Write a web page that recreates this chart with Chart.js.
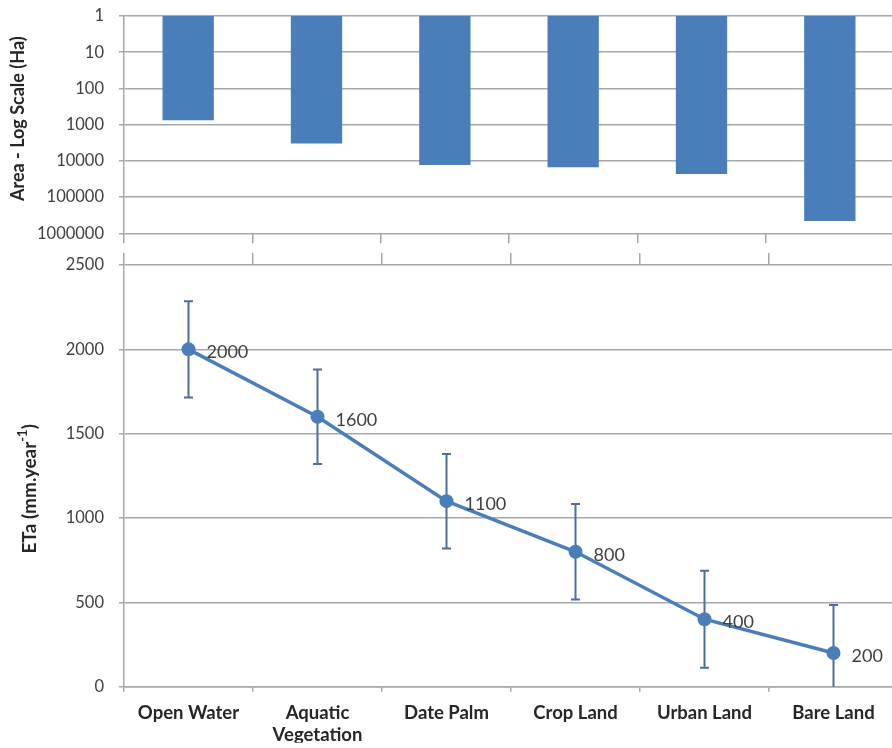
<!DOCTYPE html>
<html><head><meta charset="utf-8">
<script src="https://cdn.jsdelivr.net/npm/chart.js@4/dist/chart.umd.min.js"></script>
<style>
html,body{margin:0;padding:0;overflow:hidden;background:#fff;width:892px;height:748px;}
canvas{position:absolute;left:0;display:block;}
#topChart{top:0;}
#botChart{top:248px;}
</style></head><body>
<canvas id="topChart" width="894" height="248"></canvas>
<canvas id="botChart" width="898" height="500"></canvas>
<script>
// ---- data ----
const categories = ['Open Water', ['Aquatic', 'Vegetation'], 'Date Palm', 'Crop Land', 'Urban Land', 'Bare Land'];
const areaHa = [750, 3300, 13000, 15000, 23000, 460000];
const areaTicks = [1, 10, 100, 1000, 10000, 100000, 1000000];
const etaValues = [2000, 1600, 1100, 800, 400, 200];
const etaError = [285, 280, 280, 283, 288, 285];
const etaTicks = [0, 500, 1000, 1500, 2000, 2500];

const BLUE = '#4a7ebb';
const ERR = '#4a6f9e';
const GRID = '#a8a8a8';
const TXT = '#404040';
const FONT = 'Lato';

function noPad(s) { s.paddingTop = 0; s.paddingBottom = 0; s.paddingLeft = 0; s.paddingRight = 0; }

function draw() {
  const titlePlugin = (text, sup, tail, dy, cx, size, supSize, weight) => ({
    id: 'sideTitle',
    afterDraw(chart) {
      const ctx = chart.ctx, a = chart.chartArea;
      const cy = (a.top + a.bottom) / 2 + dy;
      ctx.save();
      ctx.translate(cx, cy);
      ctx.rotate(-Math.PI / 2);
      ctx.fillStyle = '#262626';
      ctx.textBaseline = 'middle';
      ctx.textAlign = 'left';
      const main = weight + ' ' + size + 'px ' + FONT, small = weight + ' ' + supSize + 'px ' + FONT;
      ctx.font = main; const w1 = ctx.measureText(text).width;
      ctx.font = small; const w2 = sup ? ctx.measureText(sup).width : 0;
      ctx.font = main; const w3 = tail ? ctx.measureText(tail).width : 0;
      let x = -(w1 + w2 + w3) / 2;
      ctx.font = main; ctx.fillText(text, x, 0); x += w1;
      if (sup) { ctx.font = small; ctx.fillText(sup, x, -size * 0.38); x += w2; }
      if (tail) { ctx.font = main; ctx.fillText(tail, x, 0); }
      ctx.restore();
    }
  });

  new Chart(document.getElementById('topChart'), {
    type: 'bar',
    data: {
      labels: categories,
      datasets: [{
        data: areaHa.map(v => [1, v]),
        backgroundColor: BLUE,
        borderWidth: 0,
        barPercentage: 0.4,
        categoryPercentage: 1
      }]
    },
    options: {
      responsive: false, animation: false,
      layout: { autoPadding: false, padding: { top: 16, bottom: 4.7, left: 0, right: 0 } },
      plugins: { legend: { display: false }, tooltip: { enabled: false } },
      scales: {
        x: {
          grid: { offset: true, drawOnChartArea: false, drawTicks: true, tickLength: 10, color: GRID, lineWidth: 1.5 },
          border: { display: false },
          ticks: { display: false },
          afterFit: s => { s.height = 10; noPad(s); }
        },
        y: {
          type: 'logarithmic', reverse: true, min: 1, max: 1000000,
          afterBuildTicks: s => { s.ticks = areaTicks.map(v => ({ value: v })); },
          ticks: { callback: v => String(v), font: { family: FONT, size: 16.5 }, color: TXT, padding: 15 },
          grid: { color: GRID, lineWidth: 1.5, tickLength: 5 },
          border: { color: GRID, width: 1.5 },
          afterFit: s => { s.width = 124; noPad(s); }
        }
      }
    },
    plugins: [titlePlugin('Area - Log Scale (Ha)', '', '', -6, 18.5, 18, 12, 'bold')]
  });

  const errorBars = {
    id: 'errorBars',
    beforeDatasetsDraw(chart) {
      const ctx = chart.ctx, a = chart.chartArea;
      const meta = chart.getDatasetMeta(0), ys = chart.scales.y;
      ctx.save();
      ctx.beginPath(); ctx.rect(a.left, a.top, a.right - a.left, a.bottom - a.top); ctx.clip();
      ctx.strokeStyle = ERR; ctx.lineWidth = 2;
      meta.data.forEach((pt, i) => {
        const yt = ys.getPixelForValue(etaValues[i] + etaError[i]);
        const yb = ys.getPixelForValue(etaValues[i] - etaError[i]);
        ctx.beginPath();
        ctx.moveTo(pt.x, yt); ctx.lineTo(pt.x, yb);
        ctx.moveTo(pt.x - 4.5, yt); ctx.lineTo(pt.x + 4.5, yt);
        ctx.moveTo(pt.x - 4.5, yb); ctx.lineTo(pt.x + 4.5, yb);
        ctx.stroke();
      });
      ctx.restore();
    }
  };
  const dataLabels = {
    id: 'dataLabels',
    afterDatasetsDraw(chart) {
      const ctx = chart.ctx, meta = chart.getDatasetMeta(0);
      ctx.save();
      ctx.font = '18px ' + FONT; ctx.fillStyle = TXT;
      ctx.textAlign = 'left'; ctx.textBaseline = 'middle';
      meta.data.forEach((pt, i) => ctx.fillText(String(etaValues[i]), pt.x + 18, pt.y + 3));
      ctx.restore();
    }
  };

  new Chart(document.getElementById('botChart'), {
    type: 'line',
    data: {
      labels: categories,
      datasets: [{
        data: etaValues,
        borderColor: BLUE, borderWidth: 3.5,
        pointRadius: 7, pointBackgroundColor: BLUE, pointBorderWidth: 0,
        tension: 0, fill: false, clip: false
      }]
    },
    options: {
      responsive: false, animation: false,
      layout: { autoPadding: false, padding: { top: 5, bottom: 5.3, left: 0, right: 0 } },
      plugins: { legend: { display: false }, tooltip: { enabled: false } },
      scales: {
        x: {
          offset: true,
          grid: { offset: true, drawOnChartArea: false, tickLength: 5, color: GRID, lineWidth: 1.5 },
          border: { color: GRID, width: 1.5 },
          ticks: { font: { family: FONT, size: 18.5, weight: 'bold', lineHeight: 1.2 }, color: '#262626', padding: 10, maxRotation: 0, autoSkip: false },
          afterFit: s => { s.height = 56; noPad(s); }
        },
        x2: {
          type: 'category', position: 'top', labels: categories, offset: true,
          grid: { offset: true, drawOnChartArea: false, tickLength: 12, color: GRID, lineWidth: 1.5 },
          border: { display: false },
          ticks: { display: false },
          afterFit: s => { s.height = 12; noPad(s); }
        },
        y: {
          min: 0, max: 2500,
          afterBuildTicks: s => { s.ticks = etaTicks.map(v => ({ value: v })); },
          ticks: { callback: v => String(v), font: { family: FONT, size: 16.5 }, color: TXT, padding: 15 },
          grid: { color: GRID, lineWidth: 1.5, tickLength: 5 },
          border: { color: GRID, width: 1.5 },
          afterFit: s => { s.width = 124; noPad(s); }
        }
      }
    },
    plugins: [errorBars, dataLabels, titlePlugin('ETa (mm.year', '-1', ')', 13, 30, 19, 13, 'bold')]
  });
}

if (document.fonts && document.fonts.load) {
  Promise.all([document.fonts.load('16px Lato'), document.fonts.load('bold 16px Lato')]).then(draw, draw);
} else { draw(); }
</script>
</body></html>
